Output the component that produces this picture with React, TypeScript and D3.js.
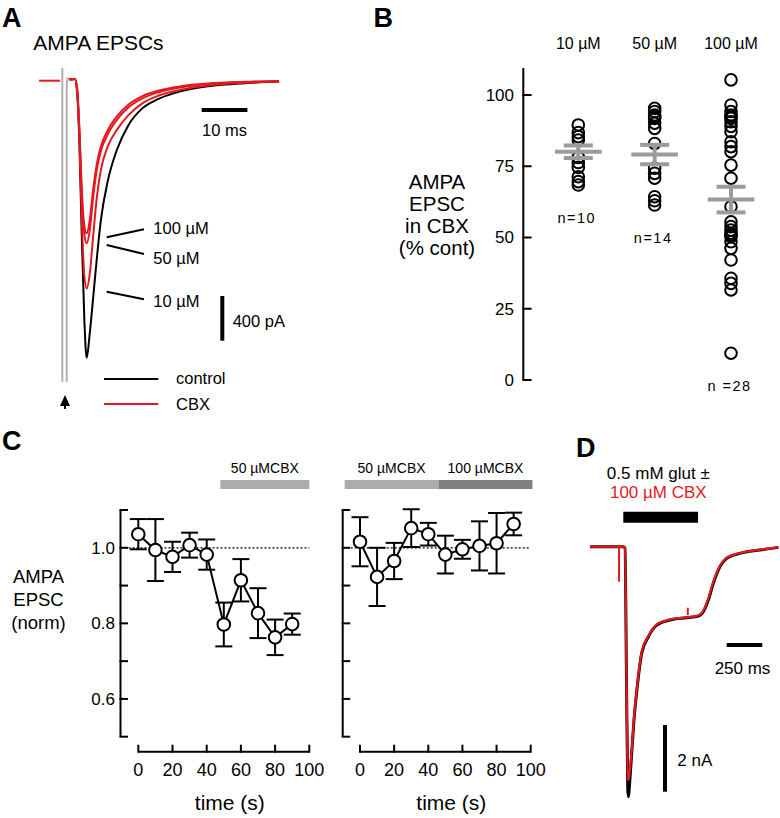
import React from "react";
import * as d3 from "d3";

// ---------- Panel A: AMPA EPSC traces (time ms, current pA) ----------
const tPreA = [-5, -0.4];
const iPreA = [0, 0];
const tA = [1.6, 2.8, 3.3, 3.8, 4.3, 4.9, 5.4, 6.1, 6.8, 7.6, 8.5, 10, 12, 14.5, 17.5, 21, 26, 32, 40, 47.5];
const controlA = [10, 15, -100, -550, -1350, -2150, -2480, -2250, -1950, -1600, -1250, -900, -620, -400, -250, -165, -95, -50, -22, -8];
const cbx10A = [10, 15, -80, -500, -1200, -1750, -1860, -1720, -1400, -1050, -800, -590, -440, -310, -205, -135, -80, -42, -18, -5];
const cbx50A = [10, 15, -70, -450, -1000, -1380, -1455, -1330, -1050, -800, -630, -480, -350, -240, -160, -105, -60, -30, -12, -4];
const cbx100A = [10, 15, -65, -420, -950, -1300, -1366, -1240, -980, -750, -590, -445, -320, -215, -140, -90, -50, -25, -10, -3];
const stimT = [0.07, 1.03];
const concLabelsA = ["100 µM", "50 µM", "10 µM"];

// ---------- Panel B: EPSC in CBX (% control) ----------
const bCats = ["10 µM", "50 µM", "100 µM"];
const bN = ["n=10", "n=14", "n =28"];
const b10 = [89.5, 86.8, 85.4, 84.2, 78.1, 76.3, 74.6, 71.3, 69.6, 68.4];
const b50 = [95.3, 94.2, 93.0, 92.4, 91.8, 90.1, 88.3, 83.0, 74.3, 72.5, 70.8, 64.3, 62.9, 61.4];
const b100 = [105.3, 96.5, 94.2, 93.0, 92.4, 91.8, 90.6, 89.0, 87.1, 83.6, 81.9, 80.1, 75.4, 70.8, 60.8, 55.5, 53.8, 52.6, 51.5, 50.9, 50.3, 48.5, 46.2, 42.1, 35.7, 33.9, 31.6, 9.4];
const bMean = [80.1, 79.1, 63.3];
const bSem = [2.2, 3.4, 4.5];
const bTicks = [0, 25, 50, 75, 100];

// ---------- Panel C: time courses ----------
const timeC = [0, 10, 20, 30, 40, 50, 60, 70, 80, 90];
const cLeft = [1.036, 0.994, 0.976, 1.007, 0.982, 0.797, 0.914, 0.827, 0.763, 0.798];
const cLeftErr = [0.04, 0.082, 0.04, 0.033, 0.04, 0.058, 0.056, 0.066, 0.047, 0.028];
const cRight = [1.016, 0.923, 0.965, 1.052, 1.036, 0.982, 0.996, 1.005, 1.012, 1.063];
const cRightErr = [0.065, 0.077, 0.048, 0.05, 0.03, 0.05, 0.025, 0.065, 0.08, 0.03];
const cYTicks = [0.5, 0.6, 0.7, 0.8, 0.9, 1.0, 1.1];
const cYLabels = [0.6, 0.8, 1.0];
const cXTicks = [0, 20, 40, 60, 80, 100];
const cLeftBars = [{ from: 48, to: 100, label: "50 µMCBX", shade: "light" }];
const cRightBars = [
  { from: -9, to: 46, label: "50 µMCBX", shade: "light" },
  { from: 46, to: 101, label: "100 µMCBX", shade: "dark" },
];

// ---------- Panel D: glutamate response (time ms, current nA) ----------
const tD = [-234, 0, 12, 22.5, 31.6, 36.5, 43.5, 59, 75, 98, 129, 176, 235, 328, 445, 527, 562, 597, 632, 667, 726, 820, 960, 1089];
const dControl = [0, 0, -0.04, -4.0, -7.3, -7.5, -7.15, -6.19, -5.2, -4.2, -3.2, -2.7, -2.35, -2.2, -2.13, -2.08, -1.95, -1.6, -1.1, -0.7, -0.35, -0.2, -0.1, -0.02];
const dCBX = [0, 0, -0.04, -3.9, -6.9, -7.0, -6.8, -6.1, -5.15, -4.15, -3.15, -2.68, -2.33, -2.18, -2.12, -2.06, -1.92, -1.55, -1.05, -0.67, -0.33, -0.19, -0.09, -0.02];
const dArtifact1T = [-30, -30];
const dArtifact1I = [0, -1.05];
const dArtifact2T = [453, 453];
const dArtifact2I = [-1.83, -2.05];
const dGlutBar = [0, 525];

const FF = "'Liberation Sans', Arial, Helvetica, sans-serif";
const RED = "#e4181f";
const GRAY = "#9b9b9b";

function Txt(props: any) {
  const { children, size = 16, anchor = "start", fill = "#000", weight = "normal", ...rest } = props;
  return (
    <text fontFamily={FF} fontSize={size} textAnchor={anchor} fill={fill} fontWeight={weight} dy="0.35em" {...rest}>
      {children}
    </text>
  );
}

function CPanel(props: any) {
  const { xs, axisX, vals, errs, bars, showLabels } = props;
  const yC = d3.scaleLinear().domain([0.5, 1.1]).range([736.7, 510]);
  const xAxisY = 751.7;
  const line = d3
    .line<number>()
    .x((_, k) => xs(timeC[k]))
    .y((v) => yC(v))(vals);
  return (
    <g>
      {bars.map((b: any, k: number) => (
        <g key={k}>
          <rect
            x={xs(b.from)}
            y={480}
            width={xs(b.to) - xs(b.from)}
            height={9}
            fill={b.shade === "dark" ? "#808080" : "#acacac"}
          />
          <Txt x={(xs(b.from) + xs(b.to)) / 2} y={468} size={14} anchor="middle">
            {b.label}
          </Txt>
        </g>
      ))}
      {/* y axis */}
      <line x1={axisX} x2={axisX} y1={yC(1.1)} y2={yC(0.5)} stroke="#000" strokeWidth={2} />
      {cYTicks.map((t) => (
        <line key={t} x1={axisX - 1} x2={axisX + 7.5} y1={yC(t)} y2={yC(t)} stroke="#000" strokeWidth={2} />
      ))}
      {showLabels &&
        cYLabels.map((t) => (
          <Txt key={t} x={axisX - 5.5} y={yC(t)} size={17} anchor="end">
            {t.toFixed(1)}
          </Txt>
        ))}
      {/* x axis */}
      <line x1={xs(0)} x2={xs(100)} y1={xAxisY} y2={xAxisY} stroke="#000" strokeWidth={2} />
      {cXTicks.map((t) => (
        <g key={t}>
          <line x1={xs(t)} x2={xs(t)} y1={xAxisY + 1} y2={xAxisY - 7} stroke="#000" strokeWidth={2} />
          <Txt x={xs(t)} y={770} size={18} anchor="middle">
            {t}
          </Txt>
        </g>
      ))}
      <Txt x={(xs(0) + xs(100)) / 2 + 6} y={803} size={21} anchor="middle">
        time (s)
      </Txt>
      {/* reference line */}
      <line
        x1={axisX}
        x2={xs(100)}
        y1={yC(1.0)}
        y2={yC(1.0)}
        stroke="#000"
        strokeWidth={1.3}
        strokeDasharray="2,2"
      />
      {/* error bars */}
      {vals.map((v: number, k: number) => {
        const x = xs(timeC[k]);
        const e = errs[k];
        return (
          <g key={k} stroke="#000" strokeWidth={2}>
            <line x1={x} x2={x} y1={yC(v + e)} y2={yC(v - e)} />
            <line x1={x - 8.5} x2={x + 8.5} y1={yC(v + e)} y2={yC(v + e)} />
            <line x1={x - 8.5} x2={x + 8.5} y1={yC(v - e)} y2={yC(v - e)} />
          </g>
        );
      })}
      <path d={line || ""} fill="none" stroke="#000" strokeWidth={2} />
      {vals.map((v: number, k: number) => (
        <circle key={k} cx={xs(timeC[k])} cy={yC(v)} r={6.3} fill="#fff" stroke="#000" strokeWidth={2} />
      ))}
    </g>
  );
}

export default function App() {
  // ----- A -----
  const xA = d3.scaleLinear().domain([0, 10]).range([62, 107.7]);
  const yA = d3.scaleLinear().domain([0, -400]).range([80.7, 125.4]);
  const lineA = (ts: number[], is: number[]) =>
    d3
      .line<number>()
      .x((_, k) => xA(ts[k]))
      .y((v) => yA(v))
      .curve(d3.curveMonotoneX)(is) || "";
  const barMsX0 = 201.7;
  const barPaY0 = 296;
  const annA = [
    { x1: 106.7, y1: 237.3, x2: 144, y2: 229.3, ty: 228.3 },
    { x1: 106.7, y1: 245, x2: 144, y2: 254, ty: 258.3 },
    { x1: 106.7, y1: 291.7, x2: 144, y2: 299.3, ty: 301.7 },
  ];

  // ----- B -----
  const xB = d3.scalePoint<string>().domain(bCats).range([578.3, 731]);
  const yB = d3.scaleLinear().domain([0, 100]).range([380, 95]);
  const bSeries = [b10, b50, b100];
  const axisBX = 523.3;

  // ----- C -----
  const xCL = d3.scaleLinear().domain([0, 100]).range([138.3, 309.3]);
  const xCR = d3.scaleLinear().domain([0, 100]).range([360, 530.7]);

  // ----- D -----
  const xD = d3.scaleLinear().domain([0, 250]).range([623.3, 658.9]);
  const yD = d3.scaleLinear().domain([0, -2]).range([546.7, 613.4]);
  const lineD = (ts: number[], is: number[], curve = true) => {
    const g = d3
      .line<number>()
      .x((_, k) => xD(ts[k]))
      .y((v) => yD(v));
    if (curve) g.curve(d3.curveMonotoneX);
    return g(is) || "";
  };

  return (
    <div style={{ position: "absolute", left: 0, top: 0 }}>
      <svg width={780} height={818} viewBox="0 0 780 818" style={{ display: "block", background: "#fff" }}>
        <rect width={780} height={818} fill="#fff" />
        {/* ================= Panel A ================= */}
        <text x={2} y={26.7} fontFamily={FF} fontSize={27} fontWeight="bold">A</text>
        <Txt x={33.3} y={43} size={21}>AMPA EPSCs</Txt>
        {/* stimulus artifact */}
        <line x1={xA(stimT[0])} x2={xA(stimT[0])} y1={68} y2={381.7} stroke="#b0b0b0" strokeWidth={2} />
        <path
          d={`M${xA(stimT[1])},381.7 L${xA(stimT[1])},84 Q${xA(stimT[1]) + 0.5},76 ${xA(1.6)},79`}
          fill="none"
          stroke="#b0b0b0"
          strokeWidth={2}
        />
        <path d={lineA(tA, controlA)} fill="none" stroke="#000" strokeWidth={2} />
        <path d={lineA(tPreA, iPreA)} fill="none" stroke={RED} strokeWidth={2} />
        <path d={lineA(tA, cbx10A)} fill="none" stroke={RED} strokeWidth={2} />
        <path d={lineA(tA, cbx50A)} fill="none" stroke={RED} strokeWidth={2} />
        <path d={lineA(tA, cbx100A)} fill="none" stroke={RED} strokeWidth={2} />
        {/* concentration annotations */}
        {annA.map((a, k) => (
          <g key={k}>
            <line x1={a.x1} y1={a.y1} x2={a.x2} y2={a.y2} stroke="#000" strokeWidth={2} />
            <Txt x={153.3} y={a.ty} size={16.5}>{concLabelsA[k]}</Txt>
          </g>
        ))}
        {/* scale bars */}
        <line x1={barMsX0} x2={barMsX0 + (xA(10) - xA(0))} y1={110} y2={110} stroke="#000" strokeWidth={4} />
        <Txt x={barMsX0 + (xA(10) - xA(0)) / 2} y={130} size={16.5} anchor="middle">10 ms</Txt>
        <line x1={222.3} x2={222.3} y1={barPaY0} y2={barPaY0 + (yA(-400) - yA(0))} stroke="#000" strokeWidth={4} />
        <Txt x={232.7} y={321} size={16.5}>400 pA</Txt>
        {/* legend */}
        <line x1={104} x2={158.3} y1={379} y2={379} stroke="#000" strokeWidth={2} />
        <Txt x={176} y={378.3} size={16.5}>control</Txt>
        <line x1={104} x2={158.3} y1={404} y2={404} stroke={RED} strokeWidth={2} />
        <Txt x={176} y={404} size={16.5}>CBX</Txt>
        {/* stimulus arrow */}
        <path d="M65,395 L60,406 L70,406 Z" fill="#000" />
        <line x1={65} x2={65} y1={404} y2={409} stroke="#000" strokeWidth={2} />

        {/* ================= Panel B ================= */}
        <text x={373.5} y={26.7} fontFamily={FF} fontSize={27} fontWeight="bold">B</text>
        {bCats.map((c) => (
          <Txt key={c} x={xB(c)} y={43.3} size={16} anchor="middle">{c}</Txt>
        ))}
        <line x1={axisBX} x2={axisBX} y1={yB(109.5)} y2={yB(0)} stroke="#000" strokeWidth={2} />
        {bTicks.map((t) => (
          <g key={t}>
            <line x1={axisBX - 1} x2={axisBX + 8.3} y1={yB(t)} y2={yB(t)} stroke="#000" strokeWidth={2} />
            <Txt x={514} y={yB(t)} size={17} anchor="end">{t}</Txt>
          </g>
        ))}
        {["AMPA", "EPSC", "in CBX", "(% cont)"].map((s, k) => (
          <Txt key={s} x={437} y={181.7 + k * 22.2} size={20.5} anchor="middle">{s}</Txt>
        ))}
        {bSeries.map((arr, ci) =>
          arr.map((v, k) => (
            <circle key={ci + "-" + k} cx={xB(bCats[ci])} cy={yB(v)} r={5.8} fill="none" stroke="#000" strokeWidth={2} />
          ))
        )}
        {bMean.map((m, ci) => {
          const cx = xB(bCats[ci]) as number;
          return (
            <g key={ci} stroke={GRAY} strokeWidth={4}>
              <line x1={cx} x2={cx} y1={yB(m + bSem[ci])} y2={yB(m - bSem[ci])} />
              <line x1={cx - 23.3} x2={cx + 23.3} y1={yB(m)} y2={yB(m)} />
              <line x1={cx - 14.5} x2={cx + 14.5} y1={yB(m + bSem[ci])} y2={yB(m + bSem[ci])} />
              <line x1={cx - 14.5} x2={cx + 14.5} y1={yB(m - bSem[ci])} y2={yB(m - bSem[ci])} />
            </g>
          );
        })}
        {bN.map((s, ci) => (
          <Txt
            key={s}
            x={(xB(bCats[ci]) as number) - 1.5}
            y={yB(d3.min(bSeries[ci]) as number) + 33}
            size={14.5}
            anchor="middle"
            letterSpacing={1.5}
          >
            {s}
          </Txt>
        ))}

        {/* ================= Panel C ================= */}
        <text x={2} y={450} fontFamily={FF} fontSize={27} fontWeight="bold">C</text>
        {["AMPA", "EPSC", "(norm)"].map((s, k) => (
          <Txt key={s} x={38.5} y={577 + k * 23} size={18.5} anchor="middle">{s}</Txt>
        ))}
        <CPanel xs={xCL} axisX={120.5} vals={cLeft} errs={cLeftErr} bars={cLeftBars} showLabels={true} />
        <CPanel xs={xCR} axisX={342.7} vals={cRight} errs={cRightErr} bars={cRightBars} showLabels={false} />

        {/* ================= Panel D ================= */}
        <text x={576} y={456.5} fontFamily={FF} fontSize={27} fontWeight="bold">D</text>
        <Txt x={658.3} y={473.3} size={17} anchor="middle">0.5 mM glut ±</Txt>
        <Txt x={658.3} y={491.7} size={17} anchor="middle" fill={RED}>100 µM CBX</Txt>
        <line x1={xD(dGlutBar[0])} x2={xD(dGlutBar[1])} y1={517.3} y2={517.3} stroke="#000" strokeWidth={11} />
        <path d={lineD(tD, dControl)} fill="none" stroke="#000" strokeWidth={3} />
        <path d={lineD(tD, dCBX)} fill="none" stroke={RED} strokeWidth={2.2} />
        <path d={lineD(dArtifact1T, dArtifact1I, false)} fill="none" stroke={RED} strokeWidth={2} />
        <path d={lineD(dArtifact2T, dArtifact2I, false)} fill="none" stroke={RED} strokeWidth={2} />
        <line x1={726.7} x2={726.7 + (xD(250) - xD(0))} y1={645} y2={645} stroke="#000" strokeWidth={4} />
        <Txt x={726.7 + (xD(250) - xD(0)) / 2 - 2} y={668.3} size={17} anchor="middle">250 ms</Txt>
        <line x1={665} x2={665} y1={725} y2={725 + (yD(-2) - yD(0))} stroke="#000" strokeWidth={4} />
        <Txt x={677.3} y={760} size={17}>2 nA</Txt>
      </svg>
    </div>
  );
}
